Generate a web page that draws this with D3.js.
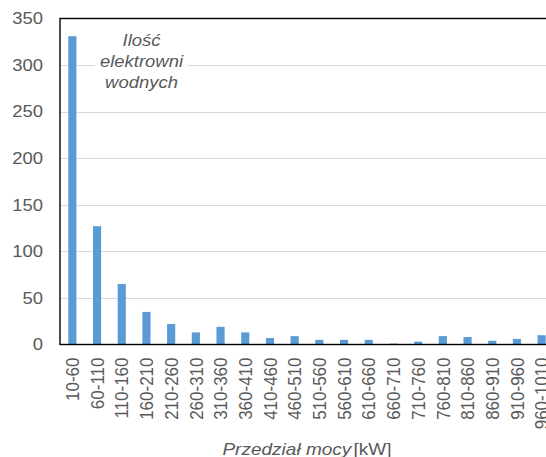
<!DOCTYPE html>
<html>
<head>
<meta charset="utf-8">
<script src="https://cdn.jsdelivr.net/npm/d3@7"></script>
<style>
  body { margin: 0; background: #fff; }
  svg { display: block; font-family: "Liberation Sans", Arial, sans-serif; }
</style>
</head>
<body>
<script>
var categories = ['10-60', '60-110', '110-160', '160-210', '210-260', '260-310', '310-360',
  '360-410', '410-460', '460-510', '510-560', '560-610', '610-660', '660-710', '710-760',
  '760-810', '810-860', '860-910', '910-960', '960-1010']
var counts = [331, 127, 65, 35, 22, 13, 19, 13, 7, 9, 5, 5, 5, 1, 3, 9, 8, 4, 6, 10]
var yTicks = [0, 50, 100, 150, 200, 250, 300, 350]
var noteLines = ['Ilość', 'elektrowni', 'wodnych']

var width = 546, height = 457
var plotLeft = 60, plotRight = 554, plotTop = 18.5, plotBottom = 344.5
var stretch = 1.12 // reference text looks a bit wide

var svg = d3.select('body').append('svg')
  .attr('width', width)
  .attr('height', height)

var x = d3.scaleBand().domain(categories).range([plotLeft, plotRight]).paddingInner(0.67).paddingOuter(0.335)
var y = d3.scaleLinear().domain([0, 350]).range([plotBottom, plotTop])

// gridlines
svg.append('g')
  .selectAll('line')
  .data(yTicks.filter(d => d > 0 && d < 350))
  .enter().append('line')
    .attr('x1', plotLeft).attr('x2', plotRight)
    .attr('y1', d => Math.round(y(d)) + 0.5).attr('y2', d => Math.round(y(d)) + 0.5)
    .attr('stroke', '#d9d9d9')
    .attr('stroke-width', 1)

// bars
svg.append('g')
  .selectAll('rect')
  .data(categories)
  .enter().append('rect')
    .attr('x', d => x(d))
    .attr('width', x.bandwidth())
    .attr('y', (d, i) => y(counts[i]))
    .attr('height', (d, i) => plotBottom - y(counts[i]))
    .attr('fill', '#5b9bd5')

// frame
svg.append('rect')
  .attr('x', plotLeft).attr('y', plotTop)
  .attr('width', plotRight - plotLeft).attr('height', plotBottom - plotTop)
  .attr('fill', 'none')
  .attr('stroke', '#000')
  .attr('stroke-width', 1.4)

// y axis labels
var yAxis = d3.axisLeft(y).tickValues(yTicks).tickSize(0).tickPadding(0)
svg.append('g')
  .attr('transform', 'translate(' + (plotLeft - 17) + ',0)')
  .call(yAxis)
  .call(g => g.select('.domain').remove())
  .selectAll('text')
    .attr('font-size', 16.5)
    .attr('fill', '#595959')
    .attr('font-family', '"Liberation Sans", Arial, sans-serif')
    .attr('x', 0)
    .attr('transform', 'scale(' + stretch + ',1)')

// x axis labels
var xAxis = d3.axisBottom(x).tickSize(0).tickPadding(0)
svg.append('g')
  .attr('transform', 'translate(0,' + plotBottom + ')')
  .call(xAxis)
  .call(g => g.select('.domain').remove())
  .selectAll('text')
    .attr('font-size', 17)
    .attr('fill', '#595959')
    .attr('font-family', '"Liberation Sans", Arial, sans-serif')
    .attr('text-anchor', 'end')
    .attr('dy', '0.35em')
    .attr('transform', 'translate(0,13) rotate(-90) scale(1,' + stretch + ')')
    .attr('x', 0).attr('y', 0)

// annotation box
svg.append('rect')
  .attr('x', 95).attr('y', 28)
  .attr('width', 93).attr('height', 66)
  .attr('fill', '#fff')

svg.append('g')
  .attr('transform', 'translate(141.5,0) scale(' + stretch + ',1)')
  .selectAll('text')
  .data(noteLines)
  .enter().append('text')
    .attr('x', 0)
    .attr('y', (d, i) => 46.5 + i * 21)
    .attr('text-anchor', 'middle')
    .attr('font-size', 16.5)
    .attr('font-style', 'italic')
    .attr('fill', '#595959')
    .text(d => d)

// x axis title
var title = svg.append('text')
  .attr('transform', 'translate(307,455) scale(' + stretch + ',1)')
  .attr('text-anchor', 'middle')
  .attr('font-size', 17)
  .attr('fill', '#595959')
title.append('tspan').attr('font-style', 'italic').text('Przedział mocy')
title.append('tspan').attr('dx', 2).text('[kW]')
</script>
</body>
</html>
